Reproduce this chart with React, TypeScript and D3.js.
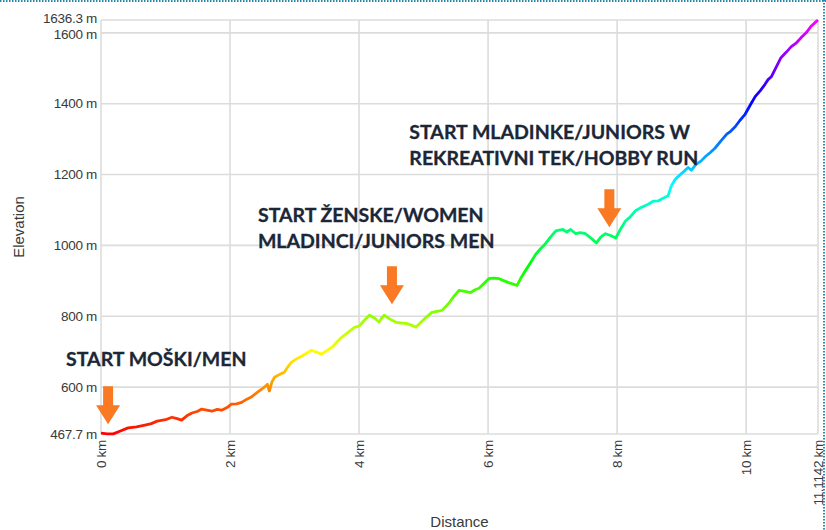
import * as d3 from 'd3'
import React from 'react'

// elevation profile
const distKm = [
  0.0, 0.1, 0.19, 0.3, 0.42, 0.55, 0.68, 0.78, 0.87, 1.0, 1.1, 1.18, 1.25, 1.33, 1.41, 1.5, 1.56, 1.64,
  1.72, 1.8, 1.87, 1.96, 2.02, 2.1, 2.18, 2.26, 2.33, 2.42, 2.49, 2.55, 2.58, 2.61, 2.65, 2.69, 2.77,
  2.84, 2.9, 2.95, 3.03, 3.11, 3.18, 3.26, 3.34, 3.42, 3.5, 3.59, 3.66, 3.74, 3.84, 3.93, 4.0, 4.08,
  4.16, 4.24, 4.31, 4.35, 4.39, 4.48, 4.57, 4.65, 4.73, 4.81, 4.88, 4.96, 5.04, 5.13, 5.21, 5.29, 5.39,
  5.47, 5.55, 5.64, 5.73, 5.8, 5.86, 5.94, 6.01, 6.09, 6.17, 6.25, 6.32, 6.4, 6.45, 6.5, 6.58, 6.66,
  6.74, 6.81, 6.89, 6.97, 7.05, 7.16, 7.22, 7.28, 7.36, 7.43, 7.51, 7.6, 7.68, 7.75, 7.82, 7.9, 7.98,
  8.05, 8.13, 8.2, 8.28, 8.38, 8.49, 8.56, 8.64, 8.72, 8.79, 8.84, 8.9, 8.95, 9.03, 9.1, 9.15, 9.22,
  9.3, 9.37, 9.45, 9.52, 9.61, 9.7, 9.76, 9.83, 9.9, 9.98, 10.06, 10.14, 10.22, 10.29, 10.34, 10.39,
  10.47, 10.54, 10.62, 10.7, 10.78, 10.85, 10.93, 11.0, 11.08, 11.1142,
]
const elevM = [
  470, 468, 468, 476, 485, 488, 493, 497, 504, 508, 515, 511, 507, 519, 527, 532, 538, 535,
  532, 537, 535, 543, 552, 553, 557, 566, 572, 585, 594, 603, 608, 589, 615, 628, 636,
  642, 658, 670, 680, 687, 695, 704, 699, 693, 703, 714, 728, 742, 756, 769, 772, 788,
  803, 795, 783, 795, 803, 792, 783, 781, 780, 775, 769, 783, 797, 811, 814, 817, 836,
  856, 873, 870, 867, 875, 879, 893, 906, 908, 906, 900, 895, 890, 887, 905, 929, 952,
  975, 990, 1005, 1024, 1041, 1045, 1038, 1045, 1033, 1036, 1033, 1020, 1007, 1024, 1033, 1028, 1021,
  1045, 1069, 1080, 1097, 1108, 1117, 1125, 1126, 1134, 1140, 1168, 1186, 1195, 1208, 1220, 1212, 1228,
  1238, 1251, 1263, 1275, 1295, 1314, 1322, 1335, 1352, 1369, 1395, 1420, 1437, 1454, 1468, 1476,
  1505, 1530, 1545, 1561, 1572, 1586, 1600, 1617, 1631, 1636.3,
]

const minElev = 467.7
const maxElev = 1636.3
const totalKm = 11.1142

const yTicks = [minElev, 600, 800, 1000, 1200, 1400, 1600, maxElev]
const xTicks = [0, 2, 4, 6, 8, 10, totalKm]

// start markers: text lines, where the arrow points (km, m)
const startLabels = [
  ['START MOŠKI/MEN'],
  ['START ŽENSKE/WOMEN', 'MLADINCI/JUNIORS MEN'],
  ['START MLADINKE/JUNIORS W', 'REKREATIVNI TEK/HOBBY RUN'],
]
const startKm = [0.11, 4.51, 7.88]
const startTipM = [495, 834, 1051]

const W = 826
const H = 530
const margin = { left: 101, right: 7, top: 20, bottom: 96 }
const annoColor = '#1b2636'
const arrowColor = '#f97a22'

function Arrow({ x, tip }: { x: number; tip: number }) {
  // downward block arrow, 38px long
  const p = d3.path()
  p.moveTo(x - 5, tip - 38)
  p.lineTo(x + 5, tip - 38)
  p.lineTo(x + 5, tip - 19)
  p.lineTo(x + 12, tip - 19)
  p.lineTo(x, tip)
  p.lineTo(x - 12, tip - 19)
  p.lineTo(x - 5, tip - 19)
  p.closePath()
  return <path d={p.toString()} fill={arrowColor} />
}

export default function App() {
  const x = d3
    .scaleLinear()
    .domain([0, totalKm])
    .range([margin.left, W - margin.right - 1])
  const y = d3
    .scaleLinear()
    .domain([minElev, maxElev])
    .range([H - margin.bottom, margin.top])

  const pts = distKm.map((d, i) => [d, elevM[i]] as [number, number])
  const lineGen = d3
    .line<[number, number]>()
    .x((d) => x(d[0]))
    .y((d) => y(d[1]))

  const hueStops = d3.range(0, 11).map((i) => i / 10)

  // label text positions relative to arrow tips
  const labelPos = [
    { dx: -42, dy: -58 },
    { dx: -134, dy: -82 },
    { dx: -200, dy: -88 },
  ]

  return (
    <svg
      width={W}
      height={H}
      style={{ position: 'absolute', left: 0, top: 0, background: '#fff' }}
      fontFamily="Arial, 'Liberation Sans', sans-serif"
    >
      <defs>
        <linearGradient
          id="elevGrad"
          gradientUnits="userSpaceOnUse"
          x1={0}
          x2={0}
          y1={y(minElev)}
          y2={y(maxElev)}
        >
          {hueStops.map((t) => (
            <stop key={t} offset={t} stopColor={d3.hsl(t * 300, 1, 0.5).toString()} />
          ))}
        </linearGradient>
      </defs>

      {/* frame of the screenshot */}
      <line x1={0} x2={W} y1={1} y2={1} stroke="#2b8aa9" strokeWidth={2} strokeDasharray="1.5,1.5" />
      <line x1={W - 2} x2={W - 2} y1={0} y2={H} stroke="#2b8aa9" strokeWidth={2} strokeDasharray="1.5,1.5" />

      <g stroke="#dcdcdc" strokeWidth={1.6}>
        {yTicks.map((t) => (
          <line key={t} x1={x(0)} x2={x(totalKm)} y1={y(t)} y2={y(t)} />
        ))}
        {xTicks.map((t) => (
          <line key={t} x1={x(t)} x2={x(t)} y1={y(minElev)} y2={y(maxElev)} />
        ))}
      </g>

      <g fontSize={13.5} fill="#3a3a3a" textAnchor="end" letterSpacing={-0.3}>
        {yTicks.map((t) => (
          <text
            key={t}
            x={margin.left - 4}
            y={y(t) + (t === maxElev ? -2 : t === 1600 ? 1 : 0)}
            dy="0.35em"
          >
            {`${t} m`}
          </text>
        ))}
        {xTicks.map((t) => (
          <text
            key={t}
            transform={`translate(${x(t)},${y(minElev) + 6}) rotate(-90)`}
            dy="0.35em"
          >
            {`${t} km`}
          </text>
        ))}
      </g>

      <text
        transform={`translate(24,${(y(minElev) + y(maxElev)) / 2}) rotate(-90)`}
        textAnchor="middle"
        fontSize={15}
        fill="#3a3a3a"
      >
        Elevation
      </text>
      <text x={(x(0) + x(totalKm)) / 2} y={527} textAnchor="middle" fontSize={15} fill="#3a3a3a">
        Distance
      </text>

      <path
        d={lineGen(pts) ?? ''}
        fill="none"
        stroke="url(#elevGrad)"
        strokeWidth={2.8}
        strokeLinejoin="round"
      />

      {startLabels.map((lines, i) => {
        const ax = x(startKm[i])
        const ay = y(startTipM[i])
        const lp = labelPos[i]
        return (
          <g key={i}>
            <Arrow x={ax} tip={ay} />
            <text
              x={ax + lp.dx}
              y={ay + lp.dy}
              fontFamily="Lato, 'Open Sans', sans-serif"
              fontWeight="bold"
              fontSize={19.5}
              fill={annoColor}
              stroke={annoColor}
              strokeWidth={0.3}
            >
              {lines.map((l, j) => (
                <tspan key={j} x={ax + lp.dx} dy={j === 0 ? 0 : 26}>
                  {l}
                </tspan>
              ))}
            </text>
          </g>
        )
      })}
    </svg>
  )
}
